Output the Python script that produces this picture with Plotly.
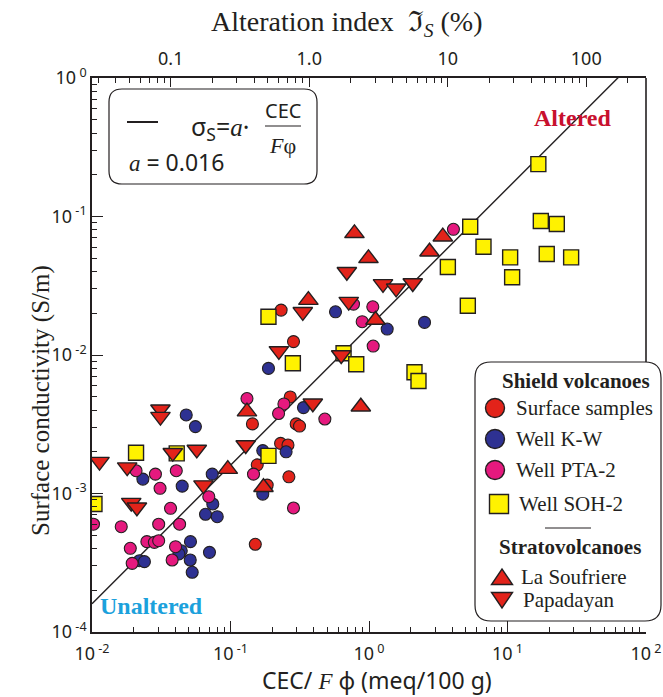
import plotly.graph_objects as go

# ---------------- data: x = CEC/(F*phi) [meq/100 g], y = surface conductivity [S/m] ----------------
surf_x = [0.270, 0.144, 0.156, 0.184, 0.230, 0.264, 0.151, 0.285, 0.232, 0.298, 0.315, 0.260]
surf_y = [4.98e-3, 3.18e-3, 1.61e-3, 1.15e-3, 2.30e-3, 1.32e-3, 4.30e-4, 1.25e-2, 2.11e-2, 3.18e-3, 3.07e-3, 2.24e-3]

kw_x = [0.0479, 0.0558, 0.171, 0.252, 0.0233, 0.0448, 0.0738, 0.171, 0.0745, 0.066, 0.0802, 0.0514,
        0.0441, 0.0424, 0.0512, 0.0705, 0.0529, 0.0220, 0.0239, 0.188, 0.3365, 0.573, 1.353, 2.517]
kw_y = [3.69e-3, 3.04e-3, 2.04e-3, 2.00e-3, 1.27e-3, 1.13e-3, 1.38e-3, 9.9e-4, 8.4e-4, 7.08e-4, 6.80e-4, 4.49e-4,
        3.86e-4, 3.66e-4, 3.31e-4, 3.76e-4, 2.70e-4, 3.27e-4, 3.22e-4, 8.0e-3, 4.17e-3, 2.05e-2, 1.54e-2, 1.72e-2]

pta_x = [0.1315, 0.243, 0.2223, 0.1466, 0.0208, 0.0287, 0.0406, 0.0310, 0.0697, 0.0369, 0.01025, 0.01626,
         0.0303, 0.0429, 0.0189, 0.0249, 0.0282, 0.0303, 0.0401, 0.0379, 0.0195, 0.773, 1.065, 0.893,
         1.072, 0.480, 4.07, 0.285]
pta_y = [4.85e-3, 4.43e-3, 3.78e-3, 1.38e-3, 1.46e-3, 1.38e-3, 1.46e-3, 1.09e-3, 9.48e-4, 7.82e-4, 6.0e-4, 5.76e-4,
         6.0e-4, 6.0e-4, 4.02e-4, 4.49e-4, 4.44e-4, 4.56e-4, 4.13e-4, 3.31e-4, 3.13e-4, 2.33e-2, 2.23e-2, 1.74e-2,
         1.16e-2, 3.45e-3, 8.08e-2, 7.86e-4]

soh_x = [0.0208, 0.0409, 0.188, 0.01042, 0.188, 0.282, 0.655, 0.809, 2.13, 2.277, 3.71, 5.38, 6.71,
         10.45, 10.8, 19.2, 28.8, 17.4, 22.7, 16.7, 5.17]
soh_y = [1.97e-3, 1.95e-3, 1.87e-3, 8.4e-4, 1.89e-2, 8.71e-3, 1.03e-2, 8.57e-3, 7.50e-3, 6.49e-3, 4.32e-2, 8.44e-2,
         6.05e-2, 5.07e-2, 3.64e-2, 5.36e-2, 5.07e-2, 9.28e-2, 8.83e-2, 0.239, 2.27e-2]

lasouf_x = [0.785, 0.991, 2.735, 3.41, 0.365, 1.114, 0.873, 0.1315, 0.0956, 0.173]
lasouf_y = [7.56e-2, 4.99e-2, 5.57e-2, 7.15e-2, 2.49e-2, 1.79e-2, 4.23e-3, 3.90e-3, 1.50e-3, 1.11e-3]

papa_x = [0.01133, 0.0312, 0.0312, 0.0383, 0.0571, 0.1288, 0.01795, 0.0638, 0.0192, 0.0211, 0.2235,
          0.3327, 0.692, 0.714, 1.262, 1.571, 2.07, 0.393, 0.630]
papa_y = [1.70e-3, 4.06e-3, 3.59e-3, 1.97e-3, 2.08e-3, 2.24e-3, 1.55e-3, 1.15e-3, 8.59e-4, 7.95e-4, 1.07e-2,
          2.05e-2, 3.99e-2, 2.43e-2, 3.26e-2, 3.03e-2, 3.31e-2, 4.48e-3, 1.00e-2]

a_fit = 0.016
fit_x = [0.01, 100.0]
fit_y = [a_fit * v for v in fit_x]

x_ticks = [0.01, 0.1, 1, 10, 100]
x_ticktext = ["10<sup> -2</sup>", "10<sup> -1</sup>", "10<sup> 0</sup>", "10<sup> 1</sup>", "10<sup> 2</sup>"]
y_ticks = [1e-4, 1e-3, 1e-2, 1e-1, 1]
y_ticktext = ["10<sup> -4</sup>", "10<sup> -3</sup>", "10<sup> -2</sup>", "10<sup> -1</sup>", "10<sup> 0</sup>"]
top_ticks = [0.1, 1, 10, 100]
top_ticktext = ["0.1", "1.0", "10", "100"]
minor_vals = [m * 10.0 ** k for k in range(-4, 3) for m in range(2, 10)]
alt_offset = 0.4314  # log10 of alteration-index (%) per unit CEC/F.phi

legend_labels = ["Surface samples", "Well K-W", "Well PTA-2", "Well SOH-2", "La Soufriere", "Papadayan"]

# ---------------- style ----------------
W, H = 663, 697
L, R, T, B = 92, 17, 78, 65
PW, PH = W - L - R, H - T - B
DARK = "#231f20"
RED = "#e2231a"
NAVY = "#2e3192"
PINK = "#e5197e"
YELLOW = "#fff200"
SANS = "Noto Sans, Open Sans, sans-serif"
SERIF = "Liberation Serif, Times New Roman, serif"


def fx(p):
    return (p - L) / PW


def fy(p):
    return (H - B - p) / PH


def rrect(x0, y0, x1, y1, r):
    a, b, c, d = fx(x0), fx(x1), fy(y0), fy(y1)
    rx, ry = r / PW, r / PH
    return (f"M {a+rx},{c} L {b-rx},{c} Q {b},{c} {b},{c-ry} L {b},{d+ry} Q {b},{d} {b-rx},{d} "
            f"L {a+rx},{d} Q {a},{d} {a},{d+ry} L {a},{c-ry} Q {a},{c} {a+rx},{c} Z")


fig = go.Figure()

mk_line = dict(color=DARK, width=1.1)
fig.add_trace(go.Scatter(x=fit_x, y=fit_y, mode="lines", line=dict(color=DARK, width=1.4), hoverinfo="skip"))
fig.add_trace(go.Scatter(x=surf_x, y=surf_y, mode="markers", name=legend_labels[0],
                         marker=dict(symbol="circle", size=12, color=RED, line=mk_line)))
fig.add_trace(go.Scatter(x=kw_x, y=kw_y, mode="markers", name=legend_labels[1],
                         marker=dict(symbol="circle", size=12, color=NAVY, line=mk_line)))
fig.add_trace(go.Scatter(x=pta_x, y=pta_y, mode="markers", name=legend_labels[2],
                         marker=dict(symbol="circle", size=12, color=PINK, line=mk_line)))
fig.add_trace(go.Scatter(x=soh_x, y=soh_y, mode="markers", name=legend_labels[3],
                         marker=dict(symbol="square", size=15, color=YELLOW, line=dict(color=DARK, width=1.4))))
fig.add_trace(go.Scatter(x=lasouf_x, y=lasouf_y, mode="markers", name=legend_labels[4],
                         marker=dict(symbol="triangle-up", size=17, color=RED, line=dict(color=DARK, width=1.4))))
fig.add_trace(go.Scatter(x=papa_x, y=papa_y, mode="markers", name=legend_labels[5],
                         marker=dict(symbol="triangle-down", size=17, color=RED, line=dict(color=DARK, width=1.4))))
# invisible traces so the extra tick axes are drawn
for xa, ya in [("x2", "y"), ("x3", "y"), ("x4", "y"), ("x", "y2")]:
    fig.add_trace(go.Scatter(x=[1], y=[1e-2], xaxis=xa, yaxis=ya, mode="markers",
                             marker=dict(opacity=0), hoverinfo="skip"))

tick_font = dict(family=SANS, size=18, color=DARK)
common = dict(showgrid=False, zeroline=False, automargin=False, tickwidth=1.3, tickcolor=DARK)
minor_ax = dict(tickvals=minor_vals, showticklabels=False, ticks="inside", ticklen=5, showline=False,
                showgrid=False, zeroline=False, automargin=False, tickwidth=1.1, tickcolor=DARK)
fig.update_layout(
    width=W, height=H, margin=dict(l=L, r=R, t=T, b=B, autoexpand=False),
    paper_bgcolor="white", plot_bgcolor="white", showlegend=False,
    xaxis=dict(type="log", range=[-2, 2], tickvals=x_ticks, ticktext=x_ticktext, tickfont=tick_font,
               ticks="inside", ticklen=11, showline=True, linecolor=DARK, linewidth=1.6,
               ticklabelstandoff=5, **common),
    xaxis2=dict(type="log", overlaying="x", side="top", anchor="y",
                range=[-2 + alt_offset, 2 + alt_offset], tickvals=top_ticks, ticktext=top_ticktext,
                tickfont=tick_font, ticks="inside", ticklen=9, showline=True, linecolor=DARK, linewidth=1.6,
                ticklabelstandoff=4, **common),
    xaxis3=dict(type="log", overlaying="x", side="top", anchor="y",
                range=[-2 + alt_offset, 2 + alt_offset], **minor_ax),
    xaxis4=dict(type="log", overlaying="x", side="bottom", anchor="y", range=[-2, 2], **minor_ax),
    yaxis=dict(type="log", range=[-4, 0], tickvals=y_ticks, ticktext=y_ticktext, tickfont=tick_font,
               ticks="inside", ticklen=11, showline=True, linecolor=DARK, linewidth=1.6, **common),
    yaxis2=dict(type="log", overlaying="y", side="left", anchor="x", range=[-4, 0], **minor_ax),
)

shapes = []
# right frame line (down to the legend box)
shapes.append(dict(type="line", xref="paper", yref="paper", x0=1, x1=1, y0=1, y1=fy(362),
                   line=dict(color=DARK, width=1.6), layer="above"))
# legend box
shapes.append(dict(type="path", xref="paper", yref="paper", path=rrect(475, 362, 661, 621, 16),
                   fillcolor="white", line=dict(color=DARK, width=1.2), layer="above"))
shapes.append(dict(type="line", xref="paper", yref="paper", x0=fx(545), x1=fx(591), y0=fy(528), y1=fy(528),
                   line=dict(color=DARK, width=1)))
# legend symbols
leg_line = dict(color=DARK, width=1.4)
for (cx, cy), col in zip([(495, 408), (495, 439), (495, 470)], [RED, NAVY, PINK]):
    shapes.append(dict(type="circle", xref="paper", yref="paper", x0=fx(cx - 9.5), x1=fx(cx + 9.5),
                       y0=fy(cy + 9.5), y1=fy(cy - 9.5), fillcolor=col, line=leg_line, layer="above"))
shapes.append(dict(type="rect", xref="paper", yref="paper", x0=fx(489.5), x1=fx(508.5),
                   y0=fy(513.5), y1=fy(494.5), fillcolor=YELLOW, line=leg_line, layer="above"))
tx, ty = 502, 577
shapes.append(dict(type="path", xref="paper", yref="paper", fillcolor=RED, line=leg_line, layer="above",
                   path=f"M {fx(tx-10.5)},{fy(ty+7.5)} L {fx(tx+10.5)},{fy(ty+7.5)} L {fx(tx)},{fy(ty-8)} Z"))
tx, ty = 502, 600
shapes.append(dict(type="path", xref="paper", yref="paper", fillcolor=RED, line=leg_line, layer="above",
                   path=f"M {fx(tx-10.5)},{fy(ty-7.5)} L {fx(tx+10.5)},{fy(ty-7.5)} L {fx(tx)},{fy(ty+8)} Z"))
# equation box
shapes.append(dict(type="path", xref="paper", yref="paper", path=rrect(109, 89, 317, 184, 13),
                   fillcolor="white", line=dict(color=DARK, width=1.2), layer="below"))
shapes.append(dict(type="line", xref="paper", yref="paper", x0=fx(127), x1=fx(158), y0=fy(122), y1=fy(122),
                   line=dict(color=DARK, width=2)))
shapes.append(dict(type="line", xref="paper", yref="paper", x0=fx(265), x1=fx(301), y0=fy(126), y1=fy(126),
                   line=dict(color=DARK, width=1.2)))
fig.update_layout(shapes=shapes)

ann = []


def add_text(text, x, y, size, family, color=DARK, xanchor="center", angle=0):
    ann.append(dict(text=text, x=fx(x), y=fy(y), xref="paper", yref="paper", showarrow=False,
                    xanchor=xanchor, yanchor="middle", textangle=angle,
                    font=dict(family=family, size=size, color=color)))


add_text("Alteration index  ℑ<sub><i>S</i></sub> (%)", 347, 24, 28, SERIF)
add_text("Surface conductivity (S/m)", 41, 401, 25, SERIF, angle=-90)
add_text("CEC/ <span style='font-family:Liberation Serif'><i>F</i></span> φ (meq/100 g)", 377, 680, 23, SANS)
add_text("<b>Altered</b>", 573, 118, 24, SERIF, color="#c8102e")
add_text("<b>Unaltered</b>", 151, 606, 24, SERIF, color="#1ba1dc")
# equation
add_text("σ<sub>S</sub>=<span style='font-family:Liberation Serif'><i>a</i></span>·", 220, 127, 25, SANS)
add_text("CEC", 283, 111, 20, SANS)
add_text("<i>F</i>φ", 282, 145, 22, SERIF)
add_text("<span style='font-family:Liberation Serif'><i>a</i></span> = 0.016", 127, 162, 23, SANS, xanchor="left")
# legend texts
add_text("<b>Shield volcanoes</b>", 576, 381, 21, SERIF)
add_text(legend_labels[0], 514, 408, 21, SERIF, xanchor="left")
add_text(legend_labels[1], 514, 439, 21, SERIF, xanchor="left")
add_text(legend_labels[2], 514, 470, 21, SERIF, xanchor="left")
add_text(legend_labels[3], 517, 504, 21, SERIF, xanchor="left")
add_text("<b>Stratovolcanoes</b>", 570, 547, 21, SERIF)
add_text(legend_labels[4], 519, 577, 21, SERIF, xanchor="left")
add_text(legend_labels[5], 521, 600, 21, SERIF, xanchor="left")
fig.update_layout(annotations=ann)

fig.write_html("out.html")
